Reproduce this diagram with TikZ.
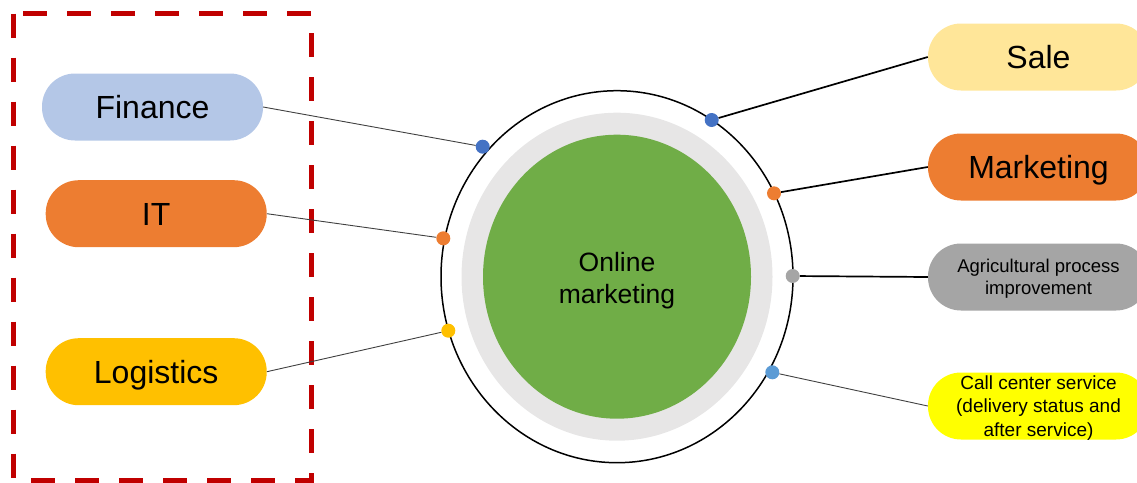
\documentclass[tikz,border=0pt]{standalone}
\usepackage{fontspec}
\setmainfont{Liberation Sans}
\usepackage{xcolor}
\usetikzlibrary{positioning}
\definecolor{darkred}{HTML}{C00000}
\definecolor{lightblue}{HTML}{B4C7E7}
\definecolor{orange1}{HTML}{ED7D31}
\definecolor{gold1}{HTML}{FFC000}
\definecolor{sand}{HTML}{FFE699}
\definecolor{gray1}{HTML}{A5A5A5}
\definecolor{yellow1}{HTML}{FFFF00}
\definecolor{blue1}{HTML}{4472C4}
\definecolor{blue2}{HTML}{5B9BD5}
\definecolor{ring}{HTML}{E7E6E6}
\definecolor{green1}{HTML}{70AD47}

\begin{document}
\begin{tikzpicture}[
    x=1pt,y=-1pt,
    pill/.style={rectangle,rounded corners=33pt,minimum width=221pt,minimum height=67pt,inner sep=0pt,
      font=\fontsize{32}{38}\selectfont,text height=23pt,text depth=0pt},
    smallpill/.style={pill,align=center,text height=},
    dot/.style={circle,minimum size=14pt,inner sep=0pt},
    link/.style={draw=black!75,line width=0.9pt},
    boldlink/.style={draw=black,line width=1.7pt}
]
\useasboundingbox (0,0) rectangle (1137,482);

% hub
\draw[line width=1.5pt] (617,276.7) ellipse [x radius=176, y radius=186];
\fill[ring] (617,276.7) ellipse [x radius=155.5, y radius=164];
\fill[green1] (617,276.7) ellipse [x radius=134, y radius=142];
\node[align=center,font=\fontsize{26.5}{32}\selectfont] (hub) at (617,281) {Online\\marketing};

% left group
\draw[darkred,line width=5pt,dash pattern=on 24pt off 20pt] (13.5,13.5) rectangle (311.5,480);
\node[pill,fill=lightblue] (fin) at (152.5,107) {Finance};
\node[pill,fill=orange1] (it) at (156.2,213.7) {IT};
\node[pill,fill=gold1] (logi) at (156.2,371.7) {Logistics};

% right group
\node[pill,fill=sand] (sale) at (1038.5,57) {Sale};
\node[pill,fill=orange1] (mkt) at (1038.5,167) {Marketing};
\node[smallpill,fill=gray1,font=\fontsize{18.5}{22}\selectfont] (agri) at (1038.5,277) {Agricultural process\\improvement};
\node[smallpill,fill=yellow1,font=\fontsize{19}{23.3}\selectfont,text depth=-2pt] (call) at (1038.5,406) {Call center service\\(delivery status and\\after service)};

% dots on the rim
\node[dot,fill=blue1] (dfin) at (482.7,146.7) {};
\node[dot,fill=orange1] (dit) at (443.3,238.3) {};
\node[dot,fill=gold1] (dlogi) at (448.3,330.7) {};
\node[dot,fill=blue1] (dsale) at (711.7,120) {};
\node[dot,fill=orange1] (dmkt) at (774,193.3) {};
\node[dot,fill=gray1] (dagri) at (792.7,276) {};
\node[dot,fill=blue2] (dcall) at (772.3,372.3) {};

\draw[link] (fin.east) -- (dfin);
\draw[link] (it.east) -- (dit);
\draw[link] (logi.east) -- (dlogi);
\draw[boldlink] (dsale) -- (sale.west);
\draw[boldlink] (dmkt) -- (mkt.west);
\draw[boldlink] (dagri) -- (agri.west);
\draw[link] (dcall) -- (call.west);
\end{tikzpicture}
\end{document}
